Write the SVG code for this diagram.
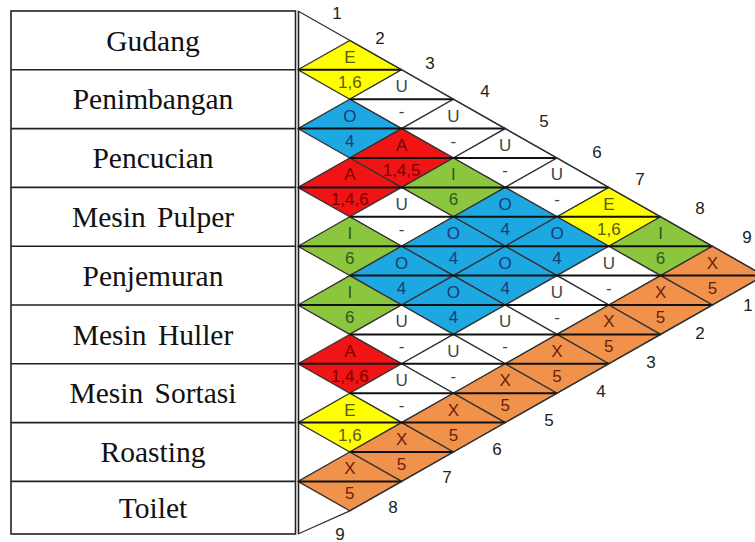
<svg xmlns="http://www.w3.org/2000/svg" xmlns:xlink="http://www.w3.org/1999/xlink" width="755" height="542" viewBox="0 0 755 542">
<style>
.bg{fill:#ffffff}
.tbl{fill:none;stroke:#222;stroke-width:1.6}
.name{font-family:"Liberation Serif","Times New Roman",serif;font-size:29.5px;fill:#111;text-anchor:middle;word-spacing:4px}
.dia{stroke:#333;stroke-width:1.3;stroke-linejoin:miter}
.yel{fill:#ffff00}.blu{fill:#1ea8e2}.red{fill:#f01414}.grn{fill:#8cc63f}.org{fill:#f0924b}.wht{fill:#ffffff}
.mid{stroke:#111;stroke-width:2;fill:none}
.edge{stroke:#333;stroke-width:1.3;fill:none}
.lb{font-family:"Liberation Sans",Arial,sans-serif;font-size:17px;text-anchor:middle;dominant-baseline:central}
.tyel{fill:#5a5a10}.tblu{fill:#173d78}.tred{fill:#7a0000}.tgrn{fill:#2b5a1a}.torg{fill:#6b200c}.twht{fill:#444}
.num{font-family:"Liberation Sans",Arial,sans-serif;font-size:17px;fill:#222;text-anchor:middle;dominant-baseline:central}
</style>
<defs>
<polygon id="d" points="-51.8,0 0,-29.4 51.8,0 0,29.4"/>
</defs>
<rect class="bg" x="0" y="0" width="755" height="542"/>

<g id="table">
<rect class="tbl" x="11" y="11" width="284.5" height="523"/>
<path class="tbl" d="M11 69.8H295.5M11 128.6H295.5M11 187.4H295.5M11 246.2H295.5M11 305H295.5M11 363.8H295.5M11 422.6H295.5M11 481.4H295.5"/>
</g>
<g id="row1"><text class="name" x="153" y="50.5">Gudang</text></g>
<g id="row2"><text class="name" x="153" y="109.3">Penimbangan</text></g>
<g id="row3"><text class="name" x="153" y="168.1">Pencucian</text></g>
<g id="row4"><text class="name" x="153" y="226.9">Mesin Pulper</text></g>
<g id="row5"><text class="name" x="153" y="285.7">Penjemuran</text></g>
<g id="row6"><text class="name" x="153" y="344.5">Mesin Huller</text></g>
<g id="row7"><text class="name" x="153" y="403.3">Mesin Sortasi</text></g>
<g id="row8"><text class="name" x="153" y="462.1">Roasting</text></g>
<g id="row9"><text class="name" x="153" y="517.5">Toilet</text></g>

<g id="diamonds">
<g id="p1-2"><use xlink:href="#d" href="#d" class="dia yel" x="349.8" y="69.8"/></g>
<g id="p1-3"><use xlink:href="#d" href="#d" class="dia wht" x="401.6" y="99.2"/></g>
<g id="p1-4"><use xlink:href="#d" href="#d" class="dia wht" x="453.4" y="128.6"/></g>
<g id="p1-5"><use xlink:href="#d" href="#d" class="dia wht" x="505.2" y="158"/></g>
<g id="p1-6"><use xlink:href="#d" href="#d" class="dia wht" x="557" y="187.4"/></g>
<g id="p1-7"><use xlink:href="#d" href="#d" class="dia yel" x="608.8" y="216.8"/></g>
<g id="p1-8"><use xlink:href="#d" href="#d" class="dia grn" x="660.6" y="246.2"/></g>
<g id="p1-9"><use xlink:href="#d" href="#d" class="dia org" x="712.4" y="275.6"/></g>
<g id="p2-3"><use xlink:href="#d" href="#d" class="dia blu" x="349.8" y="128.6"/></g>
<g id="p2-4"><use xlink:href="#d" href="#d" class="dia red" x="401.6" y="158"/></g>
<g id="p2-5"><use xlink:href="#d" href="#d" class="dia grn" x="453.4" y="187.4"/></g>
<g id="p2-6"><use xlink:href="#d" href="#d" class="dia blu" x="505.2" y="216.8"/></g>
<g id="p2-7"><use xlink:href="#d" href="#d" class="dia blu" x="557" y="246.2"/></g>
<g id="p2-8"><use xlink:href="#d" href="#d" class="dia wht" x="608.8" y="275.6"/></g>
<g id="p2-9"><use xlink:href="#d" href="#d" class="dia org" x="660.6" y="305"/></g>
<g id="p3-4"><use xlink:href="#d" href="#d" class="dia red" x="349.8" y="187.4"/></g>
<g id="p3-5"><use xlink:href="#d" href="#d" class="dia wht" x="401.6" y="216.8"/></g>
<g id="p3-6"><use xlink:href="#d" href="#d" class="dia blu" x="453.4" y="246.2"/></g>
<g id="p3-7"><use xlink:href="#d" href="#d" class="dia blu" x="505.2" y="275.6"/></g>
<g id="p3-8"><use xlink:href="#d" href="#d" class="dia wht" x="557" y="305"/></g>
<g id="p3-9"><use xlink:href="#d" href="#d" class="dia org" x="608.8" y="334.4"/></g>
<g id="p4-5"><use xlink:href="#d" href="#d" class="dia grn" x="349.8" y="246.2"/></g>
<g id="p4-6"><use xlink:href="#d" href="#d" class="dia blu" x="401.6" y="275.6"/></g>
<g id="p4-7"><use xlink:href="#d" href="#d" class="dia blu" x="453.4" y="305"/></g>
<g id="p4-8"><use xlink:href="#d" href="#d" class="dia wht" x="505.2" y="334.4"/></g>
<g id="p4-9"><use xlink:href="#d" href="#d" class="dia org" x="557" y="363.8"/></g>
<g id="p5-6"><use xlink:href="#d" href="#d" class="dia grn" x="349.8" y="305"/></g>
<g id="p5-7"><use xlink:href="#d" href="#d" class="dia wht" x="401.6" y="334.4"/></g>
<g id="p5-8"><use xlink:href="#d" href="#d" class="dia wht" x="453.4" y="363.8"/></g>
<g id="p5-9"><use xlink:href="#d" href="#d" class="dia org" x="505.2" y="393.2"/></g>
<g id="p6-7"><use xlink:href="#d" href="#d" class="dia red" x="349.8" y="363.8"/></g>
<g id="p6-8"><use xlink:href="#d" href="#d" class="dia wht" x="401.6" y="393.2"/></g>
<g id="p6-9"><use xlink:href="#d" href="#d" class="dia org" x="453.4" y="422.6"/></g>
<g id="p7-8"><use xlink:href="#d" href="#d" class="dia yel" x="349.8" y="422.6"/></g>
<g id="p7-9"><use xlink:href="#d" href="#d" class="dia org" x="401.6" y="452"/></g>
<g id="p8-9"><use xlink:href="#d" href="#d" class="dia org" x="349.8" y="481.4"/></g>
</g>

<g id="connectors">
<path class="mid" d="M298 69.8H401.6M349.8 99.2H453.4M298 128.6H505.2M349.8 158H557M298 187.4H608.8M349.8 216.8H660.6M298 246.2H712.4M349.8 275.6H764.2M298 305H712.4M349.8 334.4H660.6M298 363.8H608.8M349.8 393.2H557M298 422.6H505.2M349.8 452H453.4M298 481.4H401.6"/>
<path class="edge" d="M298 11L764.2 275.6M298 534L349.8 510.8L764.2 275.6"/>
<path class="tbl" d="M298.5 11V534"/>
</g>

<g id="labels">
<text class="lb tyel" x="349.8" y="57.3">E</text><text class="lb tyel" x="349.8" y="82.3">1,6</text>
<text class="lb twht" x="401.6" y="86.7">U</text><text class="lb twht" x="401.6" y="111.7">-</text>
<text class="lb twht" x="453.4" y="116.1">U</text><text class="lb twht" x="453.4" y="141.1">-</text>
<text class="lb twht" x="505.2" y="145.5">U</text><text class="lb twht" x="505.2" y="170.5">-</text>
<text class="lb twht" x="557" y="174.9">U</text><text class="lb twht" x="557" y="199.9">-</text>
<text class="lb tyel" x="608.8" y="204.3">E</text><text class="lb tyel" x="608.8" y="229.3">1,6</text>
<text class="lb tgrn" x="660.6" y="233.7">I</text><text class="lb tgrn" x="660.6" y="258.7">6</text>
<text class="lb torg" x="712.4" y="263.1">X</text><text class="lb torg" x="712.4" y="288.1">5</text>
<text class="lb tblu" x="349.8" y="116.1">O</text><text class="lb tblu" x="349.8" y="141.1">4</text>
<text class="lb tred" x="401.6" y="145.5">A</text><text class="lb tred" x="401.6" y="170.5">1,4,5</text>
<text class="lb tgrn" x="453.4" y="174.9">I</text><text class="lb tgrn" x="453.4" y="199.9">6</text>
<text class="lb tblu" x="505.2" y="204.3">O</text><text class="lb tblu" x="505.2" y="229.3">4</text>
<text class="lb tblu" x="557" y="233.7">O</text><text class="lb tblu" x="557" y="258.7">4</text>
<text class="lb twht" x="608.8" y="263.1">U</text><text class="lb twht" x="608.8" y="288.1">-</text>
<text class="lb torg" x="660.6" y="292.5">X</text><text class="lb torg" x="660.6" y="317.5">5</text>
<text class="lb tred" x="349.8" y="174.9">A</text><text class="lb tred" x="349.8" y="199.9">1,4,6</text>
<text class="lb twht" x="401.6" y="204.3">U</text><text class="lb twht" x="401.6" y="229.3">-</text>
<text class="lb tblu" x="453.4" y="233.7">O</text><text class="lb tblu" x="453.4" y="258.7">4</text>
<text class="lb tblu" x="505.2" y="263.1">O</text><text class="lb tblu" x="505.2" y="288.1">4</text>
<text class="lb twht" x="557" y="292.5">U</text><text class="lb twht" x="557" y="317.5">-</text>
<text class="lb torg" x="608.8" y="321.9">X</text><text class="lb torg" x="608.8" y="346.9">5</text>
<text class="lb tgrn" x="349.8" y="233.7">I</text><text class="lb tgrn" x="349.8" y="258.7">6</text>
<text class="lb tblu" x="401.6" y="263.1">O</text><text class="lb tblu" x="401.6" y="288.1">4</text>
<text class="lb tblu" x="453.4" y="292.5">O</text><text class="lb tblu" x="453.4" y="317.5">4</text>
<text class="lb twht" x="505.2" y="321.9">U</text><text class="lb twht" x="505.2" y="346.9">-</text>
<text class="lb torg" x="557" y="351.3">X</text><text class="lb torg" x="557" y="376.3">5</text>
<text class="lb tgrn" x="349.8" y="292.5">I</text><text class="lb tgrn" x="349.8" y="317.5">6</text>
<text class="lb twht" x="401.6" y="321.9">U</text><text class="lb twht" x="401.6" y="346.9">-</text>
<text class="lb twht" x="453.4" y="351.3">U</text><text class="lb twht" x="453.4" y="376.3">-</text>
<text class="lb torg" x="505.2" y="380.7">X</text><text class="lb torg" x="505.2" y="405.7">5</text>
<text class="lb tred" x="349.8" y="351.3">A</text><text class="lb tred" x="349.8" y="376.3">1,4,6</text>
<text class="lb twht" x="401.6" y="380.7">U</text><text class="lb twht" x="401.6" y="405.7">-</text>
<text class="lb torg" x="453.4" y="410.1">X</text><text class="lb torg" x="453.4" y="435.1">5</text>
<text class="lb tyel" x="349.8" y="410.1">E</text><text class="lb tyel" x="349.8" y="435.1">1,6</text>
<text class="lb torg" x="401.6" y="439.5">X</text><text class="lb torg" x="401.6" y="464.5">5</text>
<text class="lb torg" x="349.8" y="468.9">X</text><text class="lb torg" x="349.8" y="493.9">5</text>
</g>

<g id="numbers">
<text class="num" x="337" y="13">1</text>
<text class="num" x="380" y="38">2</text>
<text class="num" x="430" y="63">3</text>
<text class="num" x="485" y="91">4</text>
<text class="num" x="544" y="121">5</text>
<text class="num" x="597" y="152">6</text>
<text class="num" x="640" y="179">7</text>
<text class="num" x="700" y="208">8</text>
<text class="num" x="747" y="237">9</text>
<text class="num" x="748" y="305">1</text>
<text class="num" x="700" y="333">2</text>
<text class="num" x="651" y="362">3</text>
<text class="num" x="601" y="391">4</text>
<text class="num" x="549" y="420">5</text>
<text class="num" x="497" y="449">6</text>
<text class="num" x="447" y="477">7</text>
<text class="num" x="393" y="507">8</text>
<text class="num" x="340" y="534">9</text>
</g>
</svg>
